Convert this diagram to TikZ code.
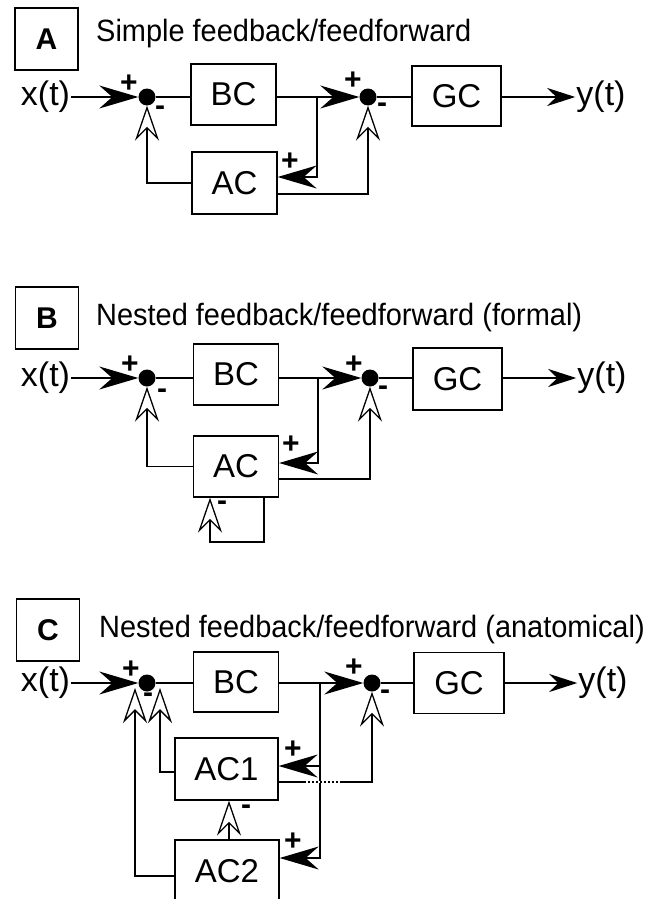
\documentclass[tikz,border=0pt]{standalone}
\usepackage{fontspec}
\setmainfont{Liberation Sans}
\newfontfamily\ttlfont{Liberation Sans}[FakeStretch=0.94]
\usetikzlibrary{arrows.meta,positioning}

\begin{document}
\begin{tikzpicture}[x=1pt, y=-1pt,
  blk/.style={draw, line width=1.3pt, inner sep=0pt, font=\fontsize{33}{36}\selectfont},
  sumdot/.style={circle, fill=black, inner sep=0pt, minimum size=17pt},
  sig/.style={font=\fontsize{34}{38}\selectfont, inner sep=1pt},
  tag/.style={draw, line width=1.1pt, minimum width=63pt, minimum height=62pt, inner sep=0pt, font=\fontsize{30}{32}\selectfont\bfseries},
  ttl/.style={anchor=base west, inner sep=0pt, font=\ttlfont\fontsize{30.8}{34}\selectfont},
  sgn/.style={inner sep=0pt, font=\fontsize{30}{32}\selectfont\bfseries},
  wire/.style={line width=1.3pt},
  fwd/.style={wire, -{Stealth[length=39pt, width=23pt, inset=13pt]}},
  outarr/.style={wire, -{Stealth[length=28pt, width=18pt, inset=9pt]}},
  neg/.style={wire, -{Stealth[length=35pt, width=24pt, inset=12pt, fill=white]}}]

\useasboundingbox (0,0) rectangle (668,899);
\clip (0,0) rectangle (668,899);

% A: simple
\begin{scope}[shift={(0,97)}]
  \node[tag] (tagA) at (46.5,-58) {A};
  \node[ttl] (ttlA) at (96,-55) {Simple feedback/feedforward};
  \node[sig] (xA) at (45.5,0) {x(t)};
  \node[sumdot] (s1A) at (147,0) {};
  \node[blk, minimum width=85pt, minimum height=61pt] (bcA) at (233.5,-2.5) {BC};
  \node[sumdot] (s2A) at (368,0) {};
  \node[blk, minimum width=89pt, minimum height=60pt] (gcA) at (456.5,-1) {GC};
  \node[sig] (yA) at (601,0) {y(t)};
  \node[blk, minimum width=85pt, minimum height=62pt] (acA) at (234.5,86) {AC};
  \coordinate (brA) at (317,0);

  \draw[fwd] (xA) -- (s1A);
  \draw[wire] (s1A) -- (bcA.west |- s1A);
  \draw[fwd] (bcA.east |- s2A) -- (s2A);
  \draw[wire] (s2A) -- (gcA.west |- s2A);
  \draw[outarr] (gcA.east |- yA) -- (yA);
  \draw[fwd] (brA) |- (acA.east |- 0,80);
  \draw[neg] (acA.west) -| (s1A);
  \draw[neg] (acA.east |- 0,97) -| (s2A);

  \node[sgn] (p1A) at (129,-13) {+};
  \node[sgn] (m1A) at (160,14) {-};
  \node[sgn] (p2A) at (353,-16) {+};
  \node[sgn] (m2A) at (382,11) {-};
  \node[sgn] (p3A) at (290,65) {+};
\end{scope}

% B: nested, formal
\begin{scope}[shift={(0,378)}]
  \node[tag] (tagB) at (47,-60) {B};
  \node[ttl] (ttlB) at (96,-53) {Nested feedback/feedforward (formal)};
  \node[sig] (xB) at (45.5,0) {x(t)};
  \node[sumdot] (s1B) at (147,0) {};
  \node[blk, minimum width=85pt, minimum height=61pt] (bcB) at (236,-3.5) {BC};
  \node[sumdot] (s2B) at (370,0) {};
  \node[blk, minimum width=89pt, minimum height=62pt] (gcB) at (457.5,1) {GC};
  \node[sig] (yB) at (602,0) {y(t)};
  \node[blk, minimum width=85pt, minimum height=61pt] (acB) at (236,88.5) {AC};
  \coordinate (brB) at (318,0);
  \coordinate (loopB) at (210,164);

  \draw[fwd] (xB) -- (s1B);
  \draw[wire] (s1B) -- (bcB.west |- s1B);
  \draw[fwd] (bcB.east |- s2B) -- (s2B);
  \draw[wire] (s2B) -- (gcB.west |- s2B);
  \draw[outarr] (gcB.east |- yB) -- (yB);
  \draw[fwd] (brB) |- (acB.east |- 0,85);
  \draw[neg] (acB.west) -| (s1B);
  \draw[neg] (acB.east |- 0,101) -| (s2B);
  \draw[neg] (acB.south -| 264,0) |- (loopB) -- (acB.south -| loopB);

  \node[sgn] (p1B) at (130,-13) {+};
  \node[sgn] (m1B) at (162,16) {-};
  \node[sgn] (p2B) at (354,-13) {+};
  \node[sgn] (m2B) at (383,13) {-};
  \node[sgn] (p3B) at (291,67) {+};
  \node[sgn] (m3B) at (222,128) {-};
\end{scope}

% C: nested, anatomical
\begin{scope}[shift={(0,683)}]
  \node[tag] (tagC) at (48,-53) {C};
  \node[ttl] (ttlC) at (99,-46) {Nested feedback/feedforward (anatomical)};
  \node[sig] (xC) at (45.5,0) {x(t)};
  \node[sumdot] (s1C) at (147,0) {};
  \node[blk, minimum width=85pt, minimum height=60pt] (bcC) at (236,-1) {BC};
  \node[sumdot] (s2C) at (372,0) {};
  \node[blk, minimum width=90pt, minimum height=61pt] (gcC) at (459,0) {GC};
  \node[sig] (yC) at (603,0) {y(t)};
  \node[blk, minimum width=103pt, minimum height=62pt] (ac1C) at (226.5,86) {AC1};
  \node[blk, minimum width=104pt, minimum height=62pt] (ac2C) at (227,188) {AC2};
  \coordinate (brC) at (320,0);
  \coordinate (t1C) at (160,5);
  \coordinate (t2C) at (135,5);

  \draw[fwd] (xC) -- (s1C);
  \draw[wire] (s1C) -- (bcC.west |- s1C);
  \draw[fwd] (bcC.east |- s2C) -- (s2C);
  \draw[wire] (s2C) -- (gcC.west |- s2C);
  \draw[outarr] (gcC.east |- yC) -- (yC);
  \draw[fwd] (brC) |- (ac2C.east |- 0,175);
  \draw[fwd] (brC |- 0,83) -- (ac1C.east |- 0,83);
  \draw[neg] (ac1C.east |- 0,99) -| (s2C);
  \draw[white, line width=1.3pt, dash pattern=on 2pt off 2pt] (306,99) -- (340,99);
  \draw[neg] (ac1C.west |- 0,89) -| (t1C);
  \draw[neg] (ac2C.west |- 0,193) -| (t2C);
  \draw[neg] (ac2C.north -| 229,0) -- (ac1C.south -| 229,0);

  \node[sgn] (p1C) at (131,-13) {+};
  \node[sgn] (m1C) at (148,15) {-};
  \node[sgn] (p2C) at (354,-15) {+};
  \node[sgn] (m2C) at (385,12) {-};
  \node[sgn] (p3C) at (293,67) {+};
  \node[sgn] (p4C) at (293,159) {+};
  \node[sgn] (m3C) at (246,127) {-};
\end{scope}

\end{tikzpicture}
\end{document}
